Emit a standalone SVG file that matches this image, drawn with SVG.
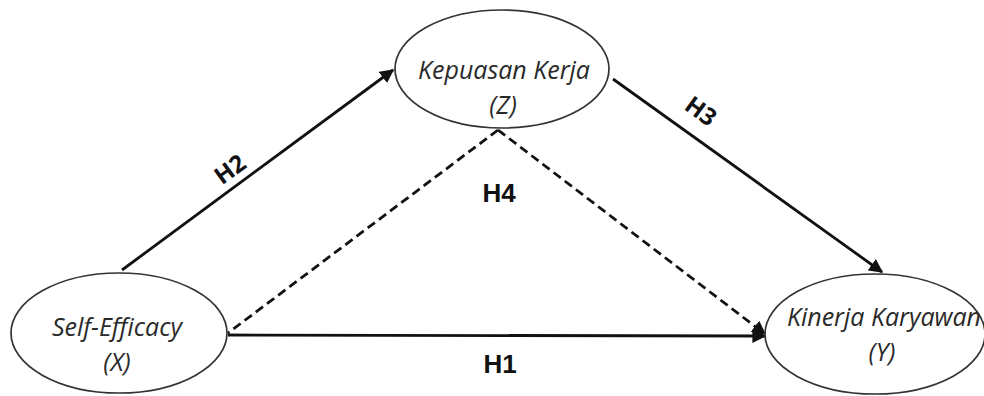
<svg xmlns="http://www.w3.org/2000/svg" width="984" height="396" viewBox="0 0 984 396">
<defs>
<marker id="ah" viewBox="0 0 10 10" refX="9" refY="5" markerWidth="5" markerHeight="5" markerUnits="strokeWidth" orient="auto">
<path d="M0,0 L10,5 L0,10 z" fill="#111"/>
</marker>
</defs>
<style>
.node ellipse{fill:#fff;stroke:#333;stroke-width:1.7}
.nt{font-family:"Open Sans",sans-serif;font-style:italic;font-size:25px;fill:#2a2a2a;text-anchor:middle}
.edge{stroke:#111;stroke-width:2.8;fill:none}
.dash{stroke-dasharray:9 5}
.lbl{font-family:"Liberation Sans",Arial,sans-serif;font-weight:bold;font-size:26px;fill:#111;text-anchor:middle}
.lbl2{font-family:"Open Sans",sans-serif;font-weight:bold;font-size:24px;fill:#111;text-anchor:middle}
</style>
<rect width="984" height="396" fill="#fff"/>
<g id="connectors">
<line class="edge" x1="122" y1="270" x2="393" y2="70" marker-end="url(#ah)"/>
<line class="edge" x1="613" y1="79" x2="882" y2="272" marker-end="url(#ah)"/>
<line class="edge" x1="228" y1="335" x2="765" y2="336" marker-end="url(#ah)"/>
<line class="edge dash" x1="498" y1="130" x2="228" y2="333"/>
<line class="edge dash" x1="498" y1="130" x2="765" y2="334" marker-end="url(#ah)"/>
<text class="lbl2" transform="translate(235,176) rotate(-36)">H2</text>
<text class="lbl2" transform="translate(696,118) rotate(36)">H3</text>
<text class="lbl" x="499" y="202">H4</text>
<text class="lbl" x="500" y="373">H1</text>
</g>
<g id="node-z" class="node">
<ellipse cx="502" cy="69" rx="107" ry="59"/>
<text class="nt" x="504" y="79">Kepuasan Kerja</text>
<text class="nt" x="503" y="114">(Z)</text>
</g>
<g id="node-x" class="node">
<ellipse cx="119" cy="333" rx="108" ry="60"/>
<text class="nt" x="117" y="336">Self-Efficacy</text>
<text class="nt" x="117" y="371">(X)</text>
</g>
<g id="node-y" class="node">
<ellipse cx="875" cy="334" rx="110" ry="60"/>
<text class="nt" x="884" y="326">Kinerja Karyawan</text>
<text class="nt" x="882" y="361">(Y)</text>
</g>
</svg>
